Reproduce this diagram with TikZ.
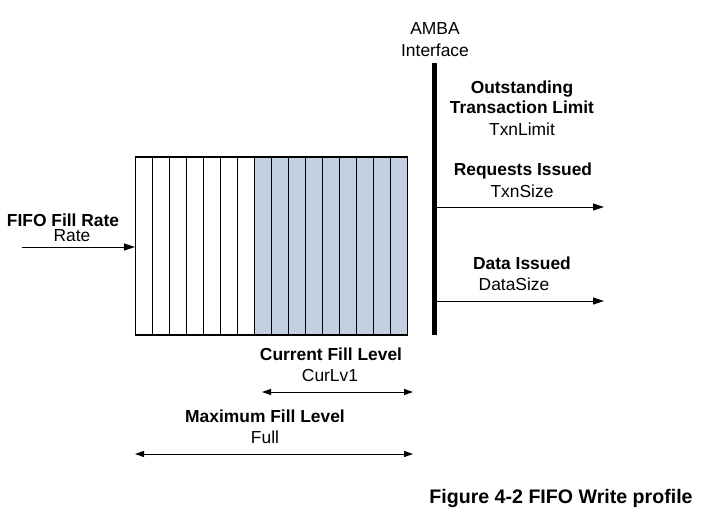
\documentclass[tikz,border=0pt]{standalone}
\usepackage{fontspec}
\setmainfont{Liberation Sans}
\usepackage{tikz}
\usetikzlibrary{positioning, arrows.meta, calc}
\definecolor{fifoblue}{RGB}{195,208,224}

\begin{document}
\begin{tikzpicture}[x=0.5pt, y=-0.5pt,
        every node/.style={font=\fontsize{8.7}{10}\selectfont, inner sep=0pt, anchor=base},
        hd/.style={font=\fontsize{8.7}{10}\selectfont\bfseries},
        cell/.style={draw, line width=0.6pt, minimum width=8.5pt, minimum height=89pt, anchor=center},
        arr/.style={-{Triangle[length=5.5pt, width=3.5pt]}, line width=0.5pt},
        dim/.style={{Triangle[length=4.5pt, width=3pt]}-{Triangle[length=4.5pt, width=3pt]}, line width=0.5pt}]
      \useasboundingbox (0,0) rectangle (711,525);

      % fifo cells, 7 empty + 9 filled
      \foreach \i in {0,...,15} {
        \ifnum\i<7
          \node[cell, fill=white] (c\i) at (144+17*\i, 246) {};
        \else
          \node[cell, fill=fifoblue] (c\i) at (144+17*\i, 246) {};
        \fi
      }

      % fill rate input
      \node[hd] (rateh) at (63,226) {FIFO Fill Rate};
      \node (rate) at (72,241) {Rate};
      \coordinate (in) at (22,247);
      \draw[arr] (in) -- (c0.west |- in);

      % AMBA interface
      \node (amba) at (435,34) {AMBA};
      \node (intf) at (435,56) {Interface};
      \coordinate (bt) at (434,63);
      \coordinate (bb) at (434,335);
      \draw[line width=2.5pt] (bt) -- (bb);

      \node[hd] (outh) at (522,93) {Outstanding};
      \node[hd] (txnh) at (522,113) {Transaction Limit};
      \node (txnl) at (522,135) {TxnLimit};

      \node[hd] (reqh) at (523,175) {Requests Issued};
      \node (txns) at (522,197) {TxnSize};
      \coordinate (req) at (604,207);
      \draw[arr] (bt |- req) -- (req);

      \node[hd] (datah) at (522,269) {Data Issued};
      \node (datas) at (514,290) {DataSize};
      \coordinate (dat) at (604,301);
      \draw[arr] (bt |- dat) -- (dat);

      % fill levels
      \node[hd] (curh) at (331,360) {Current Fill Level};
      \node (curl) at (330,381) {CurLv1};
      \coordinate (cura) at (262,392);
      \coordinate (curb) at (413,392);
      \draw[dim] (cura) -- (curb);

      \node[hd] (maxh) at (265,422) {Maximum Fill Level};
      \node (full) at (265,443) {Full};
      \coordinate (maxa) at (135,454);
      \coordinate (maxb) at (413,454);
      \draw[dim] (maxa) -- (maxb);

      \node[font=\fontsize{9.8}{11}\selectfont\bfseries] (cap) at (561,503) {Figure 4-2 FIFO Write profile};
    \end{tikzpicture}
\end{document}
